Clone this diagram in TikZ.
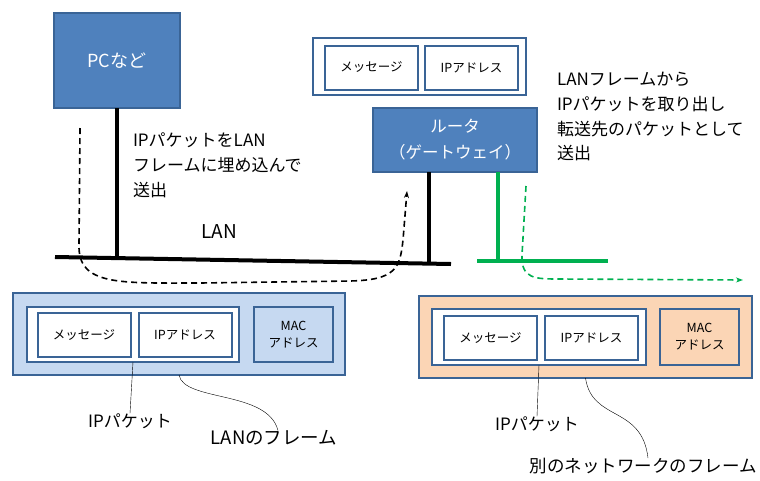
\documentclass[tikz,border=0pt]{standalone}
\usepackage{fontspec}
\setmainfont{Noto Sans CJK JP}
\usetikzlibrary{positioning, arrows.meta}
\definecolor{boxblue}{HTML}{4F81BD}
\definecolor{edgeblue}{HTML}{3A6496}
\definecolor{lanblue}{HTML}{C6D9F1}
\definecolor{peach}{HTML}{FBD5B5}
\definecolor{wangreen}{HTML}{00B050}
\tikzset{
	every node/.append style={
		outer sep=0pt,
		inner sep=0pt,
	},
	device/.append style={
		draw=edgeblue,
		fill=boxblue,
		line width=1.5pt,
		text=white,
		align=center,
	},
	field/.append style={
		draw=edgeblue,
		fill=white,
		line width=2pt,
		minimum width=93pt,
		minimum height=44pt,
		font={\fontsize{12.5}{15}\selectfont},
	},
	frame/.append style={
		draw=edgeblue,
		line width=1.5pt,
		minimum width=332pt,
		minimum height=82pt,
	},
	packet/.append style={
		draw=edgeblue,
		fill=white,
		line width=1.5pt,
	},
	macbox/.append style={
		draw=edgeblue,
		line width=2pt,
		minimum width=79pt,
		minimum height=55pt,
		align=center,
		font={\fontsize{12.5}{17}\selectfont},
	},
	note/.append style={
		align=left,
		font={\fontsize{17}{24.8}\selectfont},
	},
	labe/.append style={
		font={\fontsize{17}{20}\selectfont},
	},
	wire/.append style={
		line width=4pt,
	},
	flow/.append style={
		dashed,
		line width=1.6pt,
		dash pattern=on 6pt off 4pt,
		-{Stealth[length=7pt,width=5pt]},
	},
}

\begin{document}
\begin{tikzpicture}[x=1pt,y=-1pt]
\useasboundingbox (0,0) rectangle (760,480);

% devices
\node(pc)[device, minimum width=126pt, minimum height=95pt,
	font={\fontsize{18}{20}\selectfont}] at (117,60.5) {PCなど};
\node(rt)[device, minimum width=164pt, minimum height=64pt,
	font={\fontsize{16.5}{26}\selectfont}] at (455,140) {ルータ\\（ゲートウェイ）};

% packet taken out by the router
\node(pktT)[packet, minimum width=213pt, minimum height=57pt] at (419.5,66.5) {};
\node(msgT)[field] at (371.5,67.5) {メッセージ};
\node(ipT)[field, right=7pt of msgT] {IPアドレス};

% networks
\coordinate (lanL) at (55,257);
\coordinate (lanR) at (451,264);
\coordinate (pcTap) at (117,258);
\coordinate (rtTap) at (429,263.5);
\coordinate (gL) at (477,261);
\coordinate (gR) at (608,261);
\coordinate (gTap) at (498,261);

\draw[wire] (lanL) -- (lanR);
\draw[wire] (pc.south) -- (pcTap);
\draw[wire] (rt.south -| rtTap) -- (rtTap);
\draw[wire, wangreen] (gL) -- (gR);
\draw[wire, wangreen] (rt.south -| gTap) -- (gTap);

\node(lan)[labe, font={\fontsize{19}{20}\selectfont}] at (219,232) {LAN};

% data flow
\coordinate (inS) at (80,128);
\coordinate (inE) at (407,191);
\coordinate (outS) at (526,186);
\coordinate (outE) at (743,280);
\draw[flow] (inS) -- (79,245) .. controls (78,286) and (120,283) .. (200,283)
	-- (350,281) .. controls (396,280) and (400,268) .. (403,240) -- (inE);
\draw[flow, wangreen] (outS) -- (522,255) .. controls (521,279) and (535,279) .. (560,279) -- (outE);

% notes
\node(noteL)[note, anchor=north west] at (133,133)
	{IPパケットをLAN\\フレームに埋め込んで\\送出};
\node(noteR)[note, anchor=north west] at (557,72)
	{LANフレームから\\IPパケットを取り出し\\転送先のパケットとして\\送出};

% LAN frame
\node(frmL)[frame, fill=lanblue] at (179,334) {};
\node(pktL)[packet, minimum width=212pt, minimum height=55pt] at (133,334.5) {};
\node(msgL)[field] at (84,335) {メッセージ};
\node(ipL)[field, right=8pt of msgL] {IPアドレス};
\node(macL)[macbox, fill=lanblue] at (293.5,334.5) {MAC\\アドレス};

\node(pktLabL)[labe] at (130,421) {IPパケット};
\node(frmLabL)[labe, font={\fontsize{18.5}{20}\selectfont}] at (274,438) {LANのフレーム};
\draw (pktL.south) -- (pktLabL.north);
\draw (frmL.south) .. controls (184,402) and (268,390) .. ([xshift=4pt]frmLabL.north);

% other network frame
\node(frmR)[frame, fill=peach, minimum width=333pt] at (585.5,337) {};
\node(pktR)[packet, minimum width=214pt, minimum height=56pt] at (539,337) {};
\node(msgR)[field] at (490.5,338) {メッセージ};
\node(ipR)[field, right=8pt of msgR] {IPアドレス};
\node(macR)[macbox, fill=peach, minimum height=56pt] at (699.5,337) {MAC\\アドレス};

\node(pktLabR)[labe] at (537,424) {IPパケット};
\node(frmLabR)[labe, font={\fontsize{17.5}{20}\selectfont}] at (643,466) {別のネットワークのフレーム};
\draw (pktR.south) -- (pktLabR.north);
\draw (frmR.south) .. controls (592,422) and (642,405) .. ([xshift=5pt]frmLabR.north);
\end{tikzpicture}
\end{document}
